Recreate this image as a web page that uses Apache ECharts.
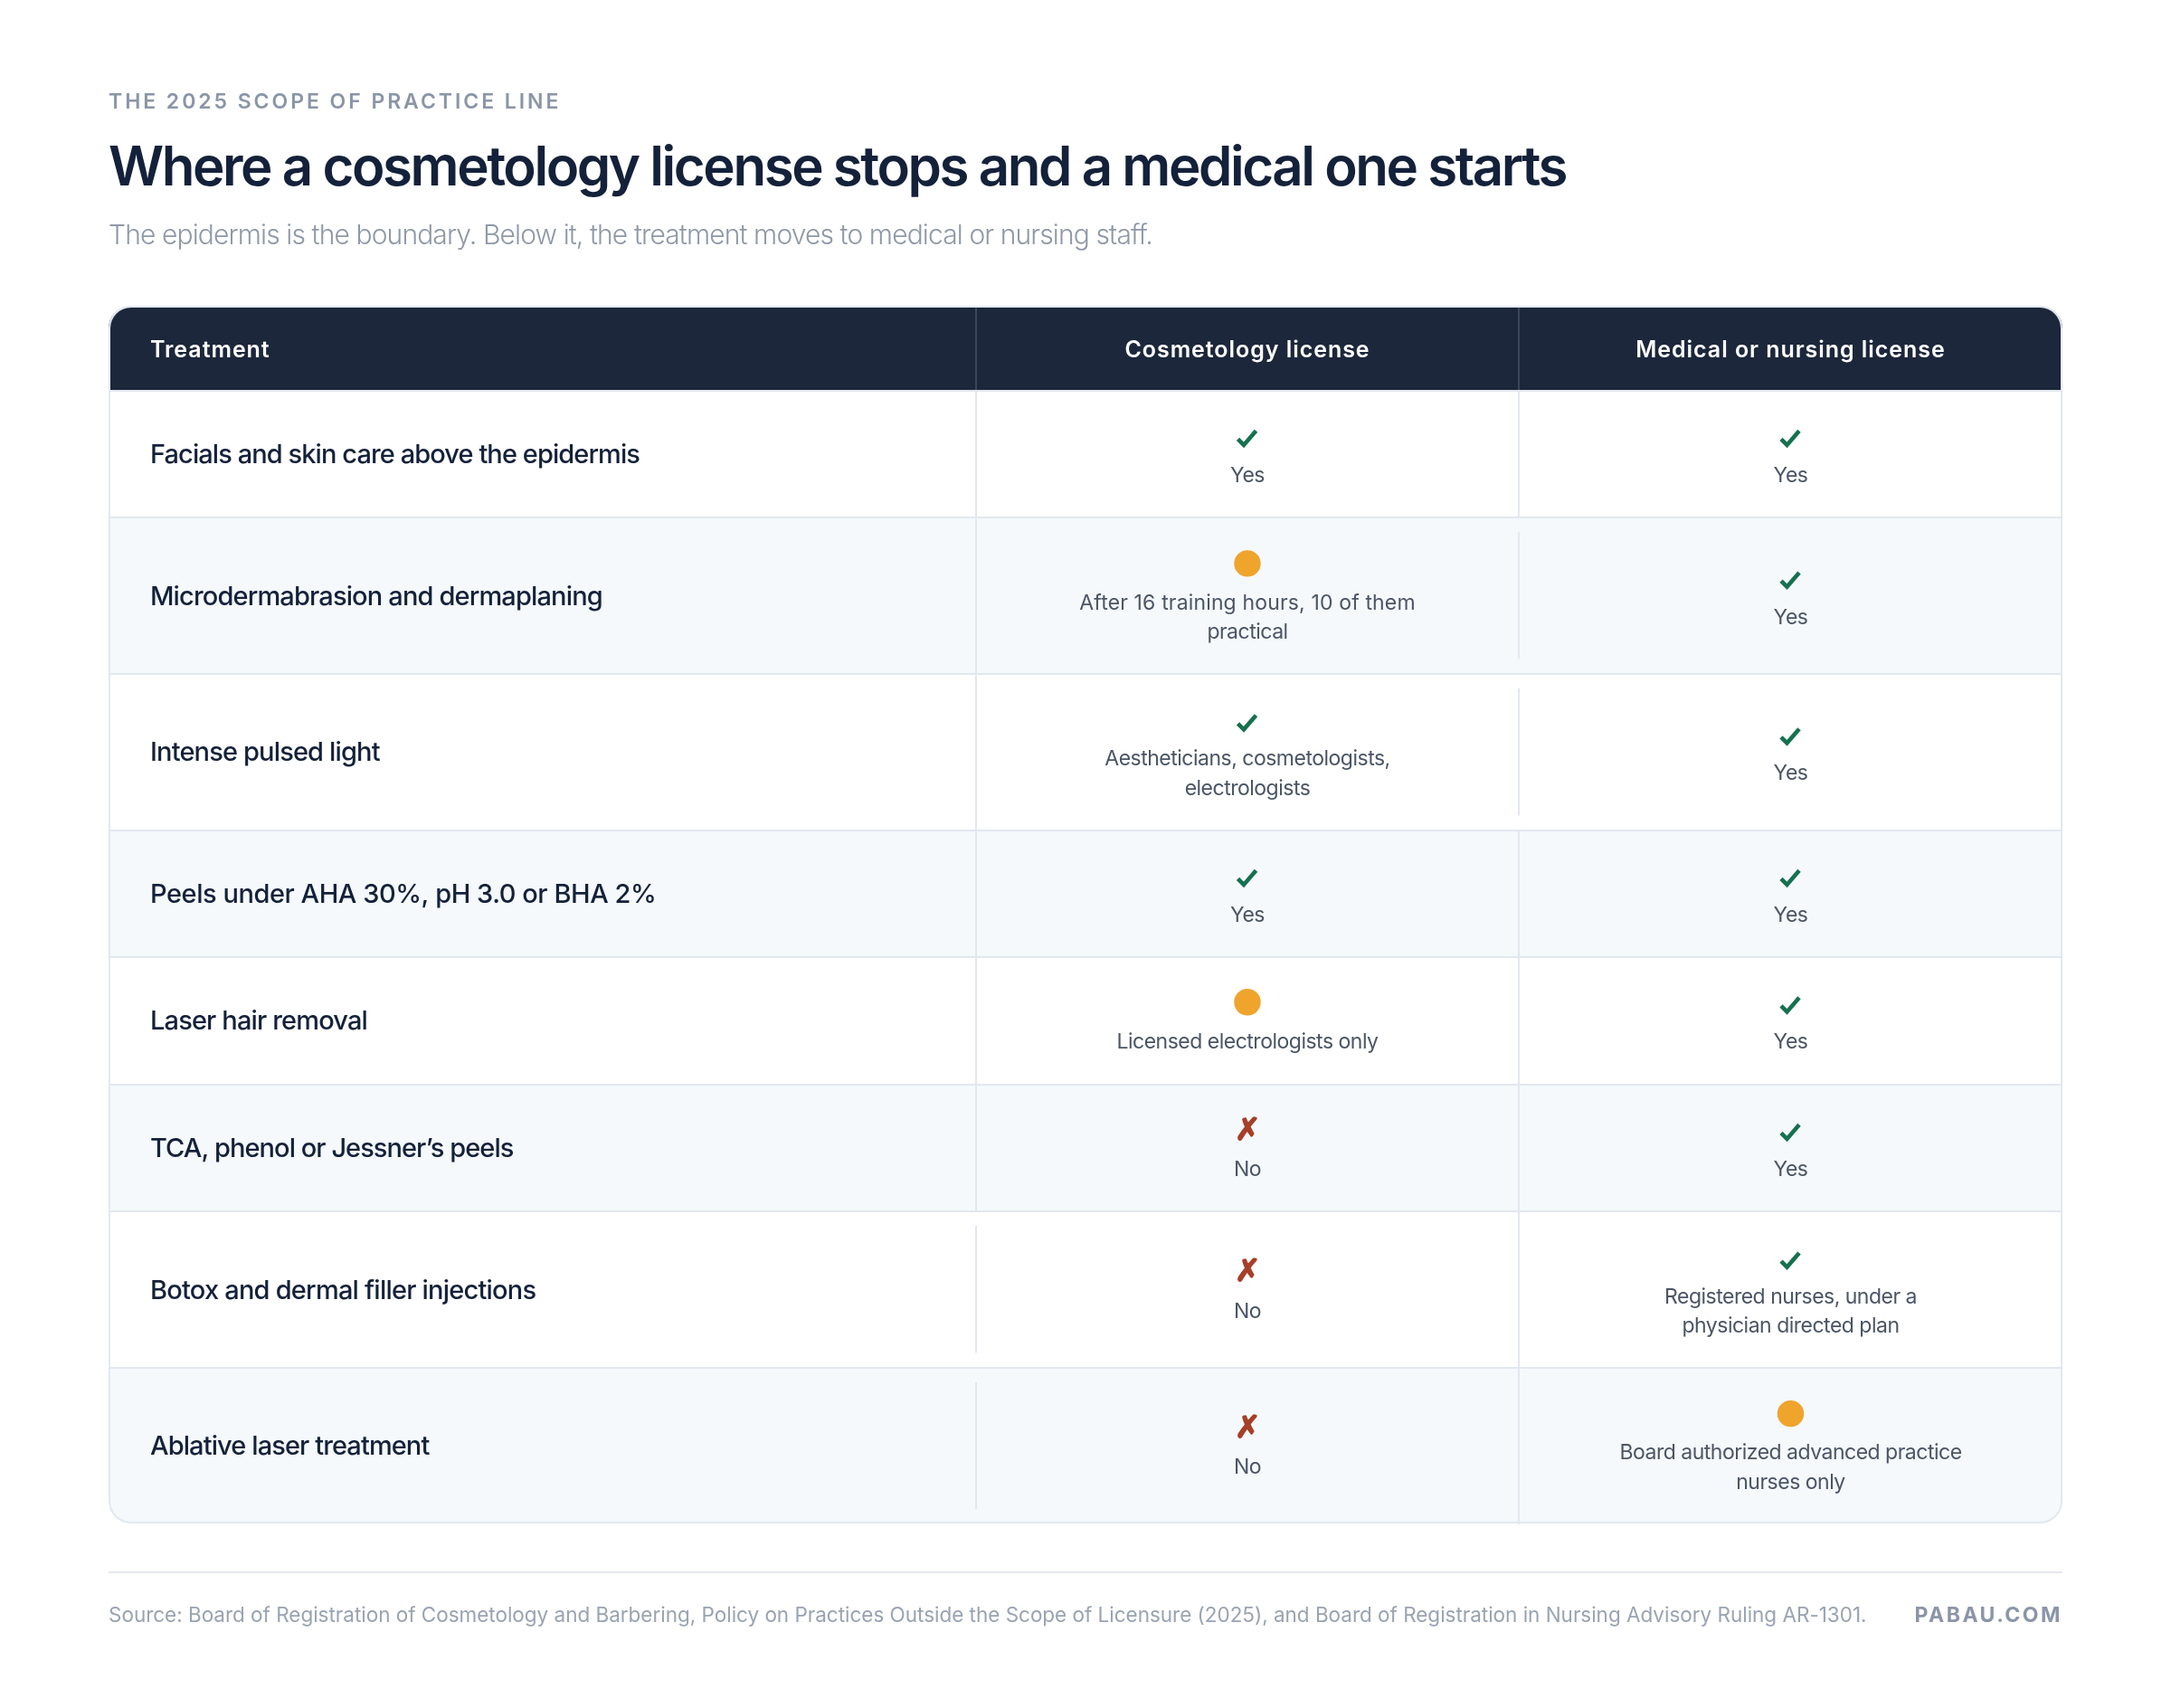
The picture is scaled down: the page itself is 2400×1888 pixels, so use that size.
<!DOCTYPE html>
<html>
<head>
<meta charset="utf-8">
<title>Where a cosmetology license stops and a medical one starts</title>
<script src="https://cdn.jsdelivr.net/npm/echarts@6/dist/echarts.min.js"></script>
<style>
html, body { margin: 0; padding: 0; background: #fff; }
#chart { width: 2400px; height: 1888px; }
</style>
</head>
<body>
<div id="chart"></div>
<script>
const eyebrow = 'THE 2025 SCOPE OF PRACTICE LINE';
const headline = 'Where a cosmetology license stops and a medical one starts';
const subhead = 'The epidermis is the boundary. Below it, the treatment moves to medical or nursing staff.';
const sourceNote = 'Source: Board of Registration of Cosmetology and Barbering, Policy on Practices Outside the Scope of Licensure (2025), and Board of Registration in Nursing Advisory Ruling AR-1301.';
const brand = 'PABAU.COM';

const headers = ['Treatment', 'Cosmetology license', 'Medical or nursing license'];
const treatments = [
    'Facials and skin care above the epidermis',
    'Microdermabrasion and dermaplaning',
    'Intense pulsed light',
    'Peels under AHA 30%, pH 3.0 or BHA 2%',
    'Laser hair removal',
    'TCA, phenol or Jessner\u2019s peels',
    'Botox and dermal filler injections',
    'Ablative laser treatment'
];
const cosmetologyStatus = ['yes', 'partial', 'yes', 'yes', 'partial', 'no', 'no', 'no'];
const cosmetologyNotes = [
    'Yes',
    'After 16 training hours, 10 of them\npractical',
    'Aestheticians, cosmetologists,\nelectrologists',
    'Yes',
    'Licensed electrologists only',
    'No',
    'No',
    'No'
];
const medicalStatus = ['yes', 'yes', 'yes', 'yes', 'yes', 'yes', 'yes', 'partial'];
const medicalNotes = [
    'Yes', 'Yes', 'Yes', 'Yes', 'Yes', 'Yes',
    'Registered nurses, under a\nphysician directed plan',
    'Board authorized advanced practice\nnurses only'
];

const FONT = 'Inter, "Noto Sans", sans-serif';
const SYMBOL_FONT = '"DejaVu Sans", sans-serif';
const NAVY = '#1c273b';
const INK = '#14213a';
const LINE = '#e2e8f0';
const BAND = '#f5f9fc';

// tracking per text, the canvas renderer has no style option for it
const tracking = new Map([
    [eyebrow, '2.95px'], [headline, '-2.45px'], [subhead, '-0.88px'], [sourceNote, '-0.02px'], [brand, '2.5px'],
    ['After 16 training hours, 10 of them', '0.15px'], [treatments[3], '-0.45px'],
    [treatments[0], '-0.92px'], [treatments[5], '-0.95px'], [treatments[6], '-0.78px'], [treatments[7], '-0.9px']
]);
headers.forEach(h => tracking.set(h, '0.95px'));
treatments.forEach(t => { if (!tracking.has(t)) tracking.set(t, '-0.85px'); });
[cosmetologyNotes, medicalNotes].forEach(list => list.forEach(n => n.split('\n').forEach(l => {
    if (!tracking.has(l)) tracking.set(l, '-0.5px');
})));
const nativeFillText = CanvasRenderingContext2D.prototype.fillText;
CanvasRenderingContext2D.prototype.fillText = function (t, x, y, w) {
    this.letterSpacing = tracking.get(t) || '0px';
    return w === undefined ? nativeFillText.call(this, t, x, y) : nativeFillText.call(this, t, x, y, w);
};

// table layout, in table units on the two axes
const colEdges = [0, 959, 1559, 2160];
const headerH = 92.5;
const singleH = 140.5;
const doubleH = 172.75;
const notesOf = [null, cosmetologyNotes, medicalNotes];
const statusOf = [null, cosmetologyStatus, medicalStatus];
const isDouble = (col, row) => notesOf[col][row].indexOf('\n') >= 0;
const rowHeights = treatments.map((t, i) => (isDouble(1, i) || isDouble(2, i)) ? doubleH : singleH);
const rowEdges = [headerH];
rowHeights.forEach(h => rowEdges.push(rowEdges[rowEdges.length - 1] + h));
const tableH = rowEdges[rowEdges.length - 1];

function txt(x, baseline, text, size, weight, fill, align, family) {
    return {
        type: 'text',
        x: x,
        y: baseline - size * 0.294,
        silent: true,
        style: {
            text: text,
            fill: fill,
            font: weight + ' ' + size + 'px ' + (family || FONT),
            align: align || 'left',
            verticalAlign: 'middle'
        }
    };
}

function renderHeader(params, api) {
    const tl = api.coord([0, 0]);
    const br = api.coord([2160, headerH]);
    const h = Math.floor(br[1]) - tl[1];
    const kids = [{
        type: 'rect',
        shape: { x: tl[0], y: tl[1], width: br[0] - tl[0], height: h, r: [24, 24, 0, 0] },
        style: { fill: NAVY }
    }];
    [1, 2].forEach(c => {
        const x = api.coord([colEdges[c], 0])[0];
        kids.push({ type: 'rect', shape: { x: x - 1, y: tl[1], width: 2, height: h }, style: { fill: '#3a4558' } });
    });
    const base = tl[1] + 56;
    kids.push(txt(tl[0] + 46, base, headers[0], 25, 600, '#ffffff'));
    [1, 2].forEach(c => {
        const mid = api.coord([(colEdges[c] + colEdges[c + 1]) / 2, 0])[0];
        kids.push(txt(mid, base, headers[c], 25, 600, '#ffffff', 'center'));
    });
    return { type: 'group', children: kids };
}

function renderRow(params, api) {
    const i = api.value(0);
    const tl = api.coord([0, rowEdges[i]]);
    const br = api.coord([2160, rowEdges[i + 1]]);
    const top = i ? Math.round(tl[1]) : Math.floor(tl[1]);
    const bottom = Math.round(br[1]);
    const last = i === treatments.length - 1;
    const h = bottom - top;
    const kids = [{
        type: 'rect',
        shape: { x: tl[0], y: top, width: br[0] - tl[0], height: last ? h - 1 : h, r: last ? [0, 0, 24, 24] : 0 },
        style: { fill: i % 2 ? BAND : '#ffffff' }
    }];
    // rows paint in order, so each one draws the rule on its own top edge
    kids.push({ type: 'rect', shape: { x: tl[0], y: i ? top - 1 : top, width: br[0] - tl[0], height: 2 }, style: { fill: LINE } });
    kids.push(txt(tl[0] + 46, (tl[1] + br[1]) / 2 + 10, treatments[i], 29, 500, INK));
    // a single line cell is shorter than a two line row, its divider is too
    [1, 2].forEach(c => {
        const x = api.coord([colEdges[c], 0])[0];
        const lineH = (isDouble(c, i) || h < doubleH - 1) ? h : singleH;
        kids.push({
            type: 'rect',
            shape: { x: x - 1, y: Math.round((top + bottom - lineH) / 2), width: 2, height: lineH },
            style: { fill: LINE }
        });
    });
    return { type: 'group', children: kids };
}

function renderCell(params, api) {
    const c = api.value(0);
    const i = api.value(1);
    const mid = api.coord([(colEdges[c] + colEdges[c + 1]) / 2, (rowEdges[i] + rowEdges[i + 1]) / 2]);
    const lines = notesOf[c][i].split('\n');
    const two = lines.length > 1;
    const status = statusOf[c][i];
    const iconY = mid[1] + (two ? -35.5 : -20.5);
    const kids = [];
    if (status === 'partial') {
        kids.push({ type: 'circle', shape: { cx: mid[0], cy: iconY, r: 14.7 }, style: { fill: '#efa42c' } });
    } else if (status === 'yes') {
        const cy = iconY + 3.7;
        kids.push({
            type: 'polyline',
            shape: { points: [[mid[0] - 10.5, cy + 0.5], [mid[0] - 4, cy + 7], [mid[0] + 9.5, cy - 8.6]] },
            style: { stroke: '#16714f', lineWidth: 4.6, fill: 'none', lineJoin: 'miter', lineCap: 'butt' }
        });
    } else {
        const mark = txt(mid[0], iconY + 12.5, '\u2717', 34, 700, '#a63f27', 'center', SYMBOL_FONT);
        mark.style.stroke = '#a63f27';
        mark.style.lineWidth = 1.6;
        kids.push(mark);
    }
    lines.forEach((line, n) => {
        kids.push(txt(mid[0], mid[1] + (two ? 15 + n * 32.5 : 31), line, 23, 400, '#4b5565', 'center'));
    });
    return { type: 'group', children: kids };
}

const chart = echarts.init(document.getElementById('chart'), null, { renderer: 'canvas' });

const cellData = [];
treatments.forEach((t, i) => {
    cellData.push([1, i]);
    cellData.push([2, i]);
});

chart.setOption({
    animation: false,
    backgroundColor: '#ffffff',
    grid: { left: 120, top: 339, width: 2160, height: tableH, containLabel: false },
    xAxis: { type: 'value', min: 0, max: 2160, show: false },
    yAxis: { type: 'value', min: 0, max: tableH, inverse: true, show: false },
    graphic: [
        txt(120, 120, eyebrow, 23, 600, '#8b95a7'),
        txt(120, 205, headline, 60, 600, INK),
        txt(120, 270, subhead, 30, 300, '#8f98a8'),
        {
            type: 'rect', z: 50, silent: true,
            shape: { x: 121, y: 339, width: 2158, height: tableH - 1.5, r: 24 },
            style: { fill: 'none', stroke: LINE, lineWidth: 2 }
        },
        { type: 'rect', silent: true, shape: { x: 120, y: 1737, width: 2160, height: 2 }, style: { fill: '#e5e8ef' } },
        txt(120, 1792.5, sourceNote, 22.5, 400, '#9aa3b2'),
        txt(2280, 1792.5, brand, 23, 700, '#8b95a7', 'right')
    ],
    series: [
        { type: 'custom', name: 'rows', clip: false, silent: true, renderItem: renderRow, data: treatments.map((t, i) => [i]), encode: { x: -1, y: -1 }, z: 2 },
        { type: 'custom', name: 'header', clip: false, silent: true, renderItem: renderHeader, data: [[0]], encode: { x: -1, y: -1 }, z: 4 },
        { type: 'custom', name: 'cells', clip: false, silent: true, renderItem: renderCell, data: cellData, encode: { x: -1, y: -1 }, z: 3 }
    ]
});
</script>
</body>
</html>
